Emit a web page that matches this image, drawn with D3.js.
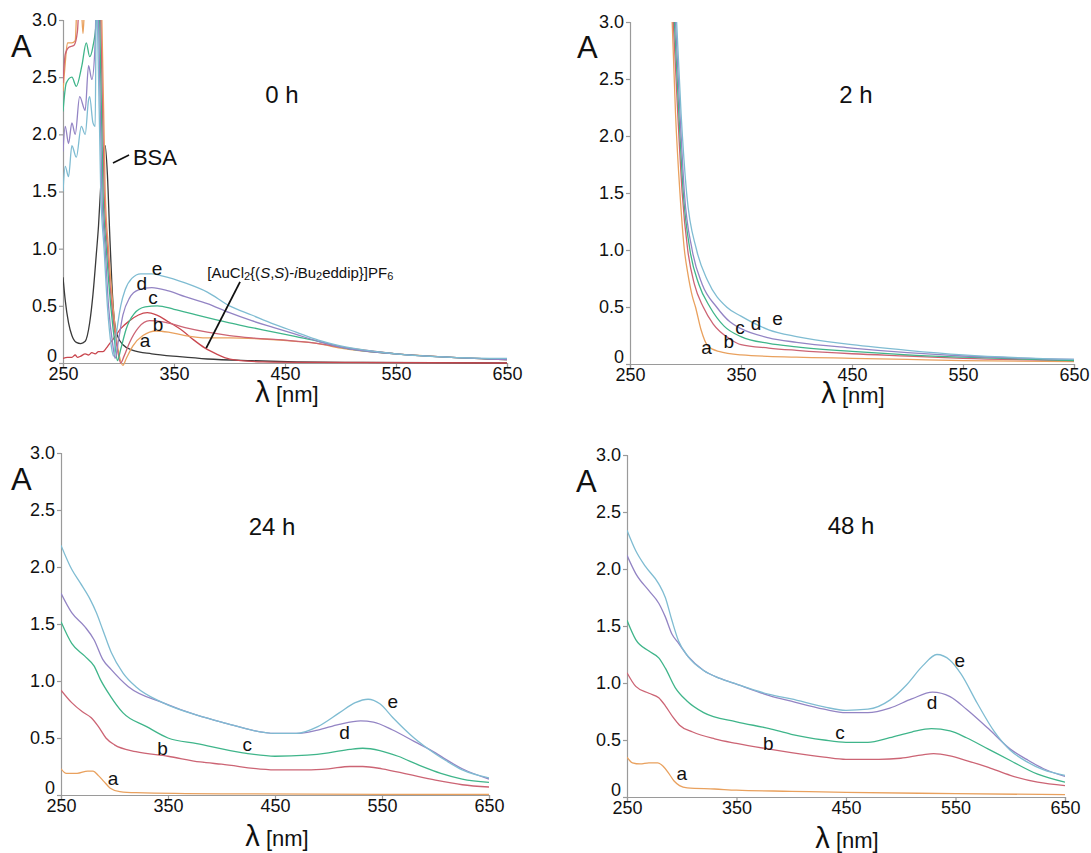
<!DOCTYPE html>
<html><head><meta charset="utf-8">
<script src="https://cdn.jsdelivr.net/npm/d3@7"></script>
<style>
body{margin:0;background:#fff}
svg{display:block}
text{font-family:"Liberation Sans",Arial,Helvetica,sans-serif;fill:#111}
</style>
</head><body>
<svg id="chart" width="1091" height="853"></svg>
<script>
// ---------------- DATA ----------------
const wavelengthTicks = [250, 350, 450, 550, 650];
const absTicks = [0, 0.5, 1, 1.5, 2, 2.5, 3];
const seriesNames = ["a", "b", "c", "d", "e"];
const panelTitles = ["0 h", "2 h", "24 h", "48 h"];

// 0 h  ([wavelength nm, absorbance])
const h0_a = [[250,2.38],[252,2.62],[254,2.8],[258,2.8],[261,2.82],[263,3.2],[266,3.2],[268,2.88],[270,3.2],[284,3.2],[285,3.0],[288,1.5],[291,1.0],[295,0.5],[300,0.1],[304,-0.02],[307,0.04],[313,0.15],[322,0.24],[334,0.28],[345,0.27],[360,0.24],[380,0.22],[400,0.22],[430,0.21],[460,0.19],[480,0.17],[500,0.13],[550,0.08],[600,0.05],[650,0.03]];
const h0_b = [[250,2.45],[252,2.7],[255,2.76],[260,2.78],[263,2.9],[265,3.2],[283,3.2],[284,3.0],[287,1.5],[290,1.0],[294,0.5],[299,0.12],[302,0.0],[305,0.06],[310,0.18],[318,0.31],[328,0.37],[340,0.36],[360,0.31],[380,0.27],[400,0.24],[420,0.22],[450,0.2],[480,0.17],[500,0.14],[550,0.08],[600,0.05],[650,0.03]];
const h0_c = [[250,2.2],[253,2.45],[258,2.5],[262,2.42],[267,2.6],[271,2.8],[274,2.68],[277,2.77],[280,3.0],[281,3.2],[282,3.2],[283,3.0],[286,1.5],[289,1.0],[293,0.5],[297,0.15],[299,0.02],[302,0.12],[307,0.3],[314,0.43],[324,0.49],[335,0.5],[350,0.47],[370,0.42],[400,0.35],[420,0.31],[440,0.27],[460,0.23],[480,0.19],[500,0.14],[550,0.08],[600,0.05],[650,0.03]];
const h0_d = [[250,1.85],[252,2.07],[255,1.92],[258,2.1],[261,2.0],[265,2.33],[270,2.21],[273,2.6],[276,2.48],[279,2.8],[280,3.2],[281,3.2],[282,3.0],[285,1.5],[288,1.0],[291,0.5],[295,0.15],[297,0.04],[300,0.2],[304,0.42],[310,0.57],[318,0.64],[330,0.66],[345,0.63],[360,0.58],[380,0.52],[400,0.44],[420,0.37],[440,0.31],[460,0.25],[480,0.19],[500,0.14],[550,0.08],[600,0.05],[650,0.03]];
const h0_e = [[250,1.5],[252,1.72],[255,1.63],[258,1.9],[262,1.8],[266.5,2.07],[270,2.0],[273,2.3],[274,2.33],[277,2.1],[279,2.07],[280,3.2],[281,3.0],[284,1.5],[287,1.0],[290,0.5],[293.5,0.15],[295.5,0.06],[298,0.25],[302,0.5],[306,0.64],[312,0.74],[320,0.78],[330,0.78],[340,0.76],[360,0.7],[380,0.62],[400,0.5],[420,0.42],[440,0.34],[460,0.27],[480,0.2],[500,0.15],[550,0.08],[600,0.05],[650,0.04]];
const h0_bsa = [[250,0.75],[252,0.55],[255,0.35],[258,0.24],[262,0.18],[266,0.17],[270,0.19],[274,0.35],[277,0.6],[280,0.95],[282,1.2],[284,1.55],[286,1.82],[288,1.9],[290,1.65],[292,1.15],[294,0.7],[296,0.4],[299,0.24],[304,0.16],[313,0.11],[330,0.08],[355,0.055],[380,0.035],[420,0.02],[460,0.01],[520,0.005],[650,0.0]];
const h0_complex = [[250,0.04],[254,0.05],[258,0.05],[261,0.07],[263,0.05],[266,0.06],[270,0.08],[273,0.07],[276,0.09],[279,0.08],[282,0.1],[286,0.1],[289,0.13],[292,0.17],[296,0.22],[302,0.3],[310,0.37],[318,0.42],[326,0.44],[334,0.42],[345,0.36],[358,0.28],[368,0.2],[378,0.13],[388,0.08],[398,0.04],[410,0.02],[430,0.01],[480,0.005],[650,0.0]];

// 2 h
const h2_a = [[288,3.0],[291,2.2],[295,1.5],[299,1.0],[302,0.8],[306,0.6],[309,0.5],[314,0.3],[320,0.16],[330,0.11],[350,0.08],[400,0.06],[450,0.05],[500,0.04],[550,0.03],[650,0.02]];
const h2_b = [[289,3.0],[293,2.2],[297,1.5],[302,1.0],[308,0.7],[316,0.5],[325,0.35],[340,0.22],[350,0.17],[375,0.14],[400,0.12],[450,0.09],[500,0.07],[550,0.05],[650,0.03]];
const h2_c = [[290,3.0],[294,2.2],[298,1.5],[304,1.0],[312,0.7],[322,0.5],[335,0.33],[350,0.24],[375,0.18],[400,0.15],[450,0.11],[500,0.08],[550,0.06],[650,0.03]];
const h2_d = [[291,3.0],[295,2.2],[299,1.5],[306,1.0],[315,0.7],[328,0.5],[340,0.37],[350,0.31],[375,0.23],[400,0.19],[450,0.14],[500,0.1],[550,0.07],[650,0.04]];
const h2_e = [[292,3.0],[296,2.2],[301,1.5],[310,1.0],[320,0.73],[337,0.5],[350,0.42],[375,0.3],[400,0.24],[450,0.17],[500,0.12],[550,0.08],[650,0.04]];

// 24 h
const h24_a = [[250,0.23],[255,0.19],[265,0.19],[275,0.21],[280,0.21],[285,0.17],[290,0.12],[296,0.06],[305,0.03],[320,0.02],[400,0.01],[650,0.005]];
const h24_b = [[250,0.92],[260,0.81],[270,0.73],[278,0.68],[285,0.6],[292,0.5],[300,0.44],[320,0.38],[350,0.34],[380,0.29],[400,0.27],[450,0.22],[480,0.22],[500,0.23],[520,0.25],[532,0.25],[550,0.23],[575,0.18],[600,0.13],[625,0.09],[650,0.07]];
const h24_c = [[250,1.52],[260,1.33],[272,1.22],[281,1.13],[287,1.01],[296,0.87],[308,0.72],[330,0.6],[350,0.5],[377,0.45],[420,0.37],[450,0.34],[480,0.35],[500,0.37],[520,0.4],[532,0.41],[548,0.39],[565,0.34],[585,0.26],[605,0.19],[625,0.14],[650,0.11]];
const h24_d = [[250,1.77],[260,1.6],[272,1.48],[281,1.36],[289,1.19],[297,1.1],[313,0.95],[345,0.81],[377,0.7],[400,0.64],[450,0.54],[470,0.54],[490,0.57],[510,0.62],[530,0.65],[542,0.64],[560,0.57],[580,0.47],[600,0.37],[610,0.31],[625,0.23],[650,0.14]];
const h24_e = [[250,2.19],[260,1.98],[268,1.86],[277,1.72],[283,1.6],[289,1.45],[297,1.25],[308,1.07],[320,0.95],[345,0.81],[377,0.7],[400,0.64],[450,0.54],[470,0.54],[490,0.6],[510,0.72],[525,0.81],[537,0.84],[548,0.8],[560,0.68],[580,0.5],[600,0.36],[610,0.3],[625,0.22],[650,0.15]];

// 48 h
const h48_a = [[250,0.35],[255,0.3],[262,0.29],[270,0.3],[278,0.3],[283,0.27],[288,0.21],[293,0.14],[298,0.1],[305,0.08],[330,0.07],[350,0.06],[400,0.05],[450,0.04],[550,0.03],[650,0.02]];
const h48_b = [[250,1.09],[258,0.97],[270,0.91],[279,0.87],[285,0.8],[292,0.7],[298,0.63],[310,0.57],[330,0.51],[350,0.47],[380,0.42],[400,0.39],[430,0.35],[450,0.33],[480,0.33],[500,0.34],[520,0.37],[530,0.38],[545,0.36],[560,0.32],[580,0.26],[600,0.19],[625,0.13],[650,0.1]];
const h48_c = [[250,1.55],[258,1.38],[270,1.28],[279,1.22],[285,1.13],[294,0.96],[305,0.84],[320,0.74],[350,0.66],[380,0.6],[400,0.55],[430,0.5],[450,0.48],[470,0.48],[490,0.52],[510,0.57],[528,0.6],[545,0.58],[560,0.52],[580,0.42],[600,0.32],[625,0.2],[650,0.13]];
const h48_d = [[250,2.12],[258,1.96],[270,1.81],[279,1.7],[285,1.58],[291,1.43],[297,1.35],[306,1.23],[320,1.11],[335,1.04],[350,0.99],[380,0.89],[400,0.84],[430,0.77],[450,0.74],[470,0.74],[490,0.78],[510,0.86],[529,0.92],[545,0.88],[560,0.77],[580,0.6],[600,0.42],[615,0.33],[630,0.25],[650,0.18]];
const h48_e = [[250,2.34],[258,2.16],[267,2.02],[279,1.87],[285,1.75],[291,1.55],[297,1.37],[306,1.23],[320,1.11],[335,1.04],[350,0.99],[380,0.9],[400,0.86],[430,0.79],[450,0.76],[470,0.77],[490,0.85],[505,0.98],[520,1.15],[533,1.25],[545,1.2],[555,1.08],[570,0.82],[585,0.58],[600,0.41],[615,0.31],[630,0.24],[650,0.19]];

// curve-letter label anchors [wavelength, absorbance] in order a..e
const h0_labelAt  = [[324,0.2],[335.6,0.34],[331,0.57],[321,0.7],[334.7,0.83]];
const h2_labelAt  = [[319,0.15],[339,0.2],[349,0.32],[363.5,0.36],[383,0.4]];
const h24_labelAt = [[298.6,0.15],[345,0.41],[424,0.44],[515,0.55],[560,0.82]];
const h48_labelAt = [[300,0.21],[379,0.47],[444.5,0.57],[528.5,0.83],[554,1.2]];

// ---------------- STYLE / LAYOUT ----------------
const colors = {a:"#E9A15E", b:"#CC6474", c:"#3FB58A", d:"#9384C4", e:"#7FBCD2", bsa:"#3a3a3a", complex:"#C9474F"};
const layout = [
  {left:63,  right:507,  top:20,  bottom:363, titleX:282, titleY:103, aX:11,  aY:57,  xtX:287, xtY:402},
  {left:630, right:1074, top:22,  bottom:364, titleX:856, titleY:103, aX:577, aY:58,  xtX:853, xtY:403},
  {left:61,  right:489,  top:453, bottom:795, titleX:272, titleY:535, aX:11,  aY:490, xtX:277, xtY:846},
  {left:627, right:1065, top:455, bottom:797, titleX:851, titleY:534, aX:576, aY:492, xtX:847, xtY:848}
];
const panelSeries = [
  {lines:[["bsa",h0_bsa],["complex",h0_complex],["a",h0_a],["b",h0_b],["c",h0_c],["d",h0_d],["e",h0_e]], labels:h0_labelAt},
  {lines:[["a",h2_a],["b",h2_b],["c",h2_c],["d",h2_d],["e",h2_e]], labels:h2_labelAt},
  {lines:[["a",h24_a],["b",h24_b],["c",h24_c],["d",h24_d],["e",h24_e]], labels:h24_labelAt},
  {lines:[["a",h48_a],["b",h48_b],["c",h48_c],["d",h48_d],["e",h48_e]], labels:h48_labelAt}
];

const svg = d3.select("#chart");
const axisColor = "#9a9a9a";

panelSeries.forEach((p, i) => {
  const L = layout[i];
  const x = d3.scaleLinear().domain([250, 650]).range([L.left, L.right]);
  const y = d3.scaleLinear().domain([0, 3]).range([L.bottom, L.top]);
  const g = svg.append("g");

  const clipId = "clip" + i;
  svg.append("defs").append("clipPath").attr("id", clipId)
    .append("rect").attr("x", L.left).attr("y", L.top).attr("width", L.right - L.left).attr("height", L.bottom - L.top + 3);

  // axes
  const xAxis = d3.axisBottom(x).tickValues(wavelengthTicks).tickSize(4).tickFormat(d3.format("d"));
  const yAxis = d3.axisLeft(y).tickValues(absTicks).tickSize(4).tickFormat(d => d === 0 ? "0" : d3.format(".1f")(d));
  const gx = g.append("g").attr("transform", `translate(0,${L.bottom})`).call(xAxis);
  const gy = g.append("g").attr("transform", `translate(${L.left},0)`).call(yAxis);
  [gx, gy].forEach(a => {
    a.select(".domain").attr("stroke", axisColor).attr("stroke-width", 1.2);
    a.selectAll(".tick line").attr("stroke", axisColor).attr("stroke-width", 1.2);
    a.selectAll(".tick text").attr("fill", "#111").style("font-size", "18px")
      .style("font-family", '"Liberation Sans",Arial,sans-serif');
  });
  gx.selectAll(".tick text").attr("y", 2).attr("dy", "0.82em");
  gy.selectAll(".tick text").attr("x", -6).attr("dy", "0.3em");
  gy.selectAll(".tick").filter(d => d === 0).select("text").attr("y", -7);

  // lines
  const line = d3.line().x(d => x(d[0])).y(d => y(d[1])).curve(d3.curveMonotoneX);
  const lg = g.append("g").attr("clip-path", `url(#${clipId})`);
  p.lines.forEach(([k, data]) => {
    lg.append("path").datum(data).attr("d", line)
      .attr("fill", "none").attr("stroke", colors[k]).attr("stroke-width", 1.3)
      .attr("stroke-linejoin", "round");
  });

  // curve labels
  p.labels.forEach((pt, j) => {
    g.append("text").attr("x", x(pt[0])).attr("y", y(pt[1])).attr("dy", "0.35em")
      .attr("text-anchor", "middle").style("font-size", "19px").text(seriesNames[j]);
  });

  // title
  g.append("text").attr("x", L.titleX).attr("y", L.titleY).attr("text-anchor", "middle")
    .style("font-size", "24px").text(panelTitles[i]);
  // y label
  g.append("text").attr("x", L.aX).attr("y", L.aY).style("font-size", "31px").text("A");
  // x label
  const xt = g.append("text").attr("x", L.xtX).attr("y", L.xtY).attr("text-anchor", "middle");
  xt.append("tspan").style("font-size", "29px").text("λ");
  xt.append("tspan").style("font-size", "22px").text(" [nm]");

  if (i === 0) {
    // BSA annotation
    g.append("line").attr("x1", x(295)).attr("y1", y(1.75)).attr("x2", x(309.5)).attr("y2", y(1.82))
      .attr("stroke", "#111").attr("stroke-width", 1.6);
    g.append("text").attr("x", x(313)).attr("y", y(1.8)).attr("dy", "0.36em").style("font-size", "22px").text("BSA");
    // complex annotation
    g.append("line").attr("x1", x(409.5)).attr("y1", y(0.71)).attr("x2", x(379)).attr("y2", y(0.13))
      .attr("stroke", "#111").attr("stroke-width", 1.8);
    const t = g.append("text").attr("x", x(380)).attr("y", y(0.79)).attr("dy", "0.36em").style("font-size", "15px");
    t.append("tspan").text("[AuCl");
    t.append("tspan").attr("dy", 2).style("font-size", "11px").text("2");
    t.append("tspan").attr("dy", -2).text("{(");
    t.append("tspan").style("font-style", "italic").text("S");
    t.append("tspan").text(",");
    t.append("tspan").style("font-style", "italic").text("S");
    t.append("tspan").text(")-");
    t.append("tspan").style("font-style", "italic").text("i");
    t.append("tspan").text("Bu");
    t.append("tspan").attr("dy", 2).style("font-size", "11px").text("2");
    t.append("tspan").attr("dy", -2).text("eddip}]PF");
    t.append("tspan").attr("dy", 2).style("font-size", "11px").text("6");
  }
});
</script>
</body></html>
